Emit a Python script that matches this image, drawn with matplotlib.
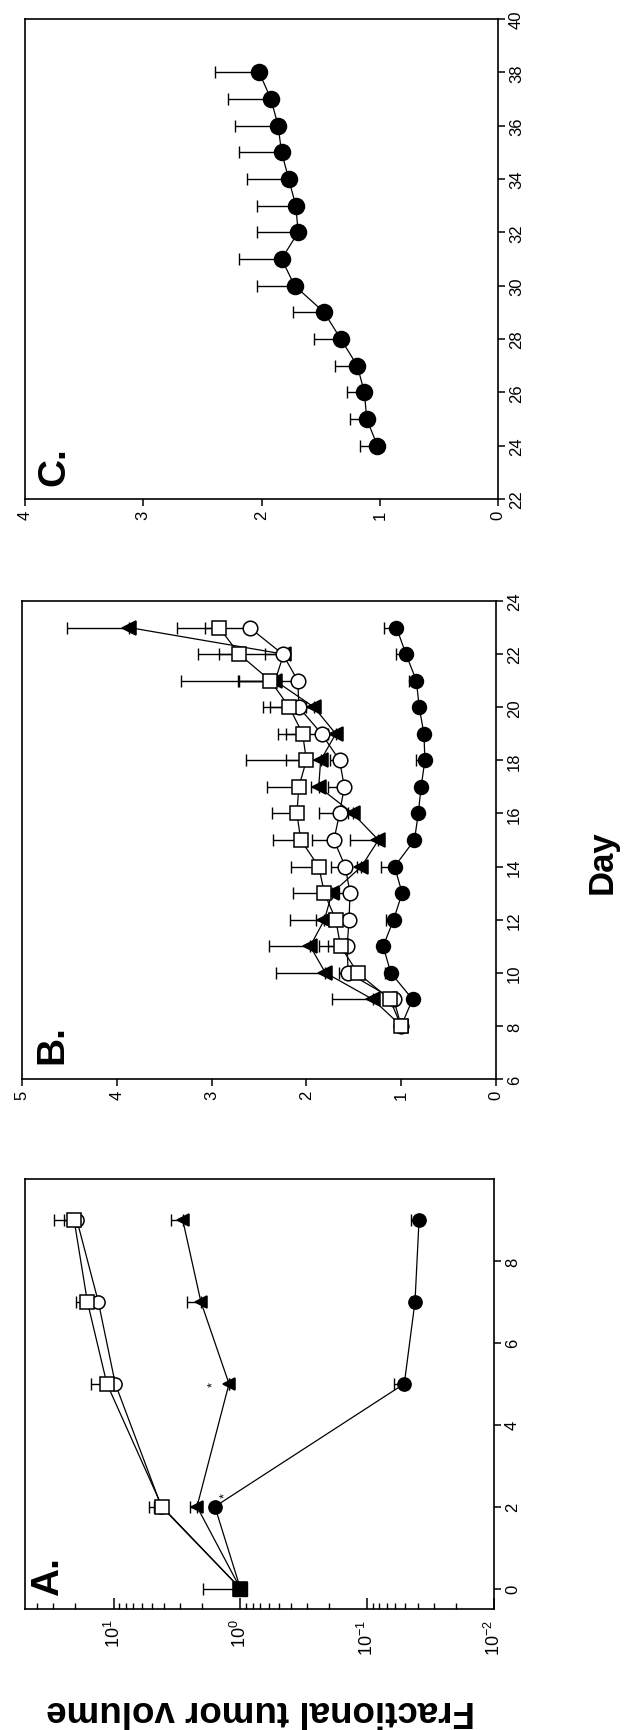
import numpy as np
import matplotlib
matplotlib.use('Agg')
import matplotlib.pyplot as plt
from matplotlib.ticker import FixedLocator, NullFormatter

plt.rcParams['font.family'] = ['Liberation Sans', 'DejaVu Sans']
plt.rcParams['mathtext.default'] = 'regular'

# panel C: one group, days 24-38
c_day = [24, 25, 26, 27, 28, 29, 30, 31, 32, 33, 34, 35, 36, 37, 38]
c_val = [1.02, 1.11, 1.13, 1.19, 1.33, 1.47, 1.72, 1.83, 1.69, 1.71, 1.77, 1.83, 1.86, 1.92, 2.02]
c_err = [0.15, 0.14, 0.15, 0.19, 0.23, 0.26, 0.32, 0.36, 0.35, 0.33, 0.35, 0.36, 0.36, 0.36, 0.37]

# panel B: four groups, days 8-23
b_day = [8, 9, 10, 11, 12, 13, 14, 15, 16, 17, 18, 19, 20, 21, 22, 23]
b_fill = [1.00, 0.88, 1.11, 1.19, 1.08, 0.99, 1.07, 0.86, 0.82, 0.79, 0.75, 0.76, 0.81, 0.84, 0.95, 1.05]
b_fill_err = [0, 0.03, 0.06, 0.06, 0.08, 0.03, 0.14, 0.03, 0.03, 0.03, 0.09, 0.03, 0.03, 0.08, 0.10, 0.13]
b_open = [1.00, 1.08, 1.56, 1.57, 1.55, 1.54, 1.59, 1.71, 1.65, 1.60, 1.65, 1.84, 2.08, 2.09, 2.25, 2.60]
b_open_err = [0, 0.05, 0.10, 0.20, 0.10, 0.12, 0.15, 0.23, 0.22, 0.17, 0.10, 0.37, 0.30, 0.63, 0.67, 0.47]
b_sq = [1.00, 1.12, 1.46, 1.64, 1.69, 1.81, 1.87, 2.06, 2.10, 2.08, 2.00, 2.04, 2.18, 2.38, 2.71, 2.92]
b_sq_err = [0, 0.05, 0.08, 0.23, 0.21, 0.33, 0.29, 0.29, 0.26, 0.34, 0.64, 0.26, 0.28, 0.94, 0.43, 0.45]
b_tri = [1.00, 1.30, 1.80, 1.96, 1.81, 1.73, 1.42, 1.24, 1.51, 1.87, 1.85, 1.69, 1.92, 2.33, 2.24, 3.87]
b_tri_err = [0, 0.43, 0.52, 0.43, 0.36, 0.10, 0.05, 0.30, 0.05, 0.08, 0.37, 0.08, 0.08, 0.38, 0.20, 0.66]

# panel A: four groups, days 0-9 (log scale)
a_day = [0, 2, 5, 7, 9]
a_fill = [1.0, 1.59, 0.051, 0.042, 0.039]
a_fill_err = [0, 0, 0.01, 0.003, 0.006]
a_tri = [1.0, 2.2, 1.23, 2.05, 2.85]
a_tri_err = [0, 0.3, 0, 0.58, 0.7]
a_open = [1.0, 4.2, 9.7, 13.2, 19.5]
a_open_err = [0, 0.6, 2.0, 2.5, 5.0]
a_sq = [1.0, 4.15, 11.3, 16.1, 20.5]
a_sq_err = [0.97, 1.1, 3.7, 3.8, 8.9]
a_star_val = [1.32, 1.65]
a_star_day = [2.3, 5.0]

W, H = 626, 1731
fig = plt.figure(figsize=(W / 100, H / 100), dpi=100)


def box(l, t, r, b):
    return [l / W, 1 - b / H, (r - l) / W, (b - t) / H]


def series(ax, day, val, err, marker, filled, ms, z):
    err = np.asarray(err, float)
    ax.errorbar(val, day, xerr=[np.zeros_like(err), err], fmt='none', ecolor='k',
                elinewidth=1.0, capsize=4.5, capthick=1.0, zorder=2)
    ax.plot(val, day, color='k', lw=0.9, zorder=3)
    ax.plot(val, day, ls='none', marker=marker, ms=ms, mfc='k' if filled else 'w',
            mec='k', mew=1.1, zorder=z)


def style(ax, vdir='out'):
    for s in ax.spines.values():
        s.set_linewidth(1.2)
    ax.yaxis.tick_right()
    ax.tick_params(axis='y', direction='out', length=5, width=1.1, labelsize=12,
                   labelrotation=90, pad=3)
    ax.tick_params(axis='x', direction=vdir, length=5, width=1.1, labelsize=12,
                   labelrotation=90, pad=3)
    for lbl in ax.get_yticklabels():
        lbl.set_va('center')


# C
axC = fig.add_axes(box(25, 20, 498, 500))
series(axC, c_day, c_val, c_err, 'o', True, 11.5, 5)
axC.set_xlim(4, 0)
axC.set_ylim(22, 40)
axC.set_xticks(range(0, 5))
axC.set_yticks(range(22, 41, 2))
style(axC)

# B
axB = fig.add_axes(box(22, 602, 496, 1080))
series(axB, b_day, b_fill, b_fill_err, 'o', True, 10, 5)
series(axB, b_day, b_tri, b_tri_err, '<', True, 10, 6)
series(axB, b_day, b_open, b_open_err, 'o', False, 10.5, 7)
series(axB, b_day, b_sq, b_sq_err, 's', False, 10.5, 8)
axB.set_xlim(5, 0)
axB.set_ylim(6, 24)
axB.set_xticks(range(0, 6))
axB.set_yticks(range(6, 25, 2))
style(axB)

# A
axA = fig.add_axes(box(25, 1180, 494, 1610))
axA.set_xscale('log')
series(axA, a_day, a_fill, a_fill_err, 'o', True, 9.5, 5)
series(axA, a_day, a_tri, a_tri_err, '<', True, 9, 6)
series(axA, a_day, a_open, a_open_err, 'o', False, 9.5, 7)
series(axA, a_day, a_sq, a_sq_err, 's', False, 9.5, 8)
# all groups start together at day 0: drawn as one solid square
axA.plot(a_sq[0], a_day[0], ls='none', marker='s', ms=9.5, mfc='k', mec='k', zorder=9)
for v, d in zip(a_star_val, a_star_day):
    axA.text(v, d, '*', fontsize=9, ha='center', va='center', rotation=90)
axA.set_xlim(50, 0.01)
axA.set_ylim(-0.5, 10)
style(axA, vdir='in')
dec = [0.01, 0.1, 1, 10]
axA.xaxis.set_major_locator(FixedLocator(dec))
axA.set_xticklabels(['$10^{-2}$', '$10^{-1}$', '$10^{0}$', '$10^{1}$'])
minors = [m * d for d in dec for m in range(2, 10) if m * d < 50]
axA.xaxis.set_minor_locator(FixedLocator(minors))
axA.xaxis.set_minor_formatter(NullFormatter())
axA.tick_params(axis='x', which='major', length=8, pad=7, labelsize=13)
axA.tick_params(axis='x', which='minor', direction='in', length=4, width=1.0)
axA.set_yticks(range(0, 9, 2))
for lbl in axA.get_yticklabels():
    lbl.set_va('center')

# panel letters and axis titles (figure is turned on its side)
for txt, (l, b) in zip(['C.', 'B.', 'A.'], [(36, 486), (34, 1064), (30, 1596)]):
    fig.text(l / W, 1 - b / H, txt, fontsize=28, fontweight='bold', rotation=90,
             ha='left', va='bottom')
fig.text(602 / W, 1 - 862 / H, 'Day', fontsize=25, fontweight='bold', rotation=90,
         ha='center', va='center')
fig.text(261 / W, 1 - 1711 / H, 'Fractional tumor volume', fontsize=26.5, fontweight='bold',
         rotation=180, ha='center', va='center')

fig.savefig('out.png', dpi=100)
